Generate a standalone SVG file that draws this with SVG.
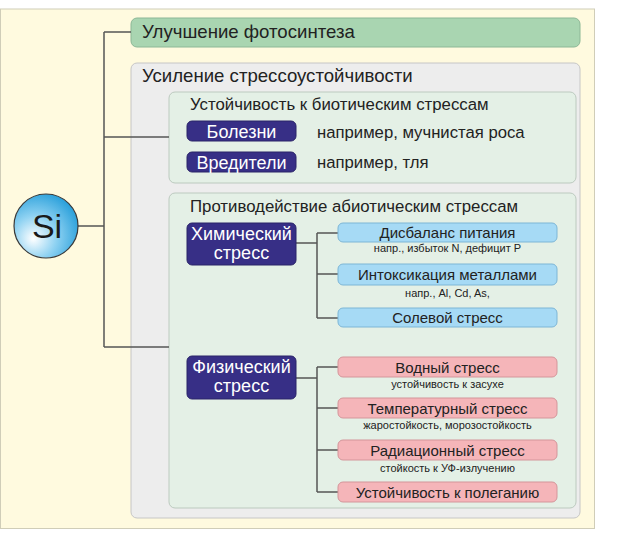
<svg xmlns="http://www.w3.org/2000/svg" width="624" height="539" viewBox="0 0 624 539">
<defs>
<radialGradient id="siGrad" cx="0.35" cy="0.65" r="0.75" fx="0.3" fy="0.7">
<stop offset="0" stop-color="#FFFFFF"/>
<stop offset="0.45" stop-color="#8FD2F2"/>
<stop offset="1" stop-color="#1E9AD8"/>
</radialGradient>
<style>
text{font-family:"Liberation Sans",Arial,sans-serif;fill:#222}
.conn{fill:none;stroke:#555;stroke-width:1.5}
.head{font-size:18.6px}
.sub{font-size:16.8px}
.navy rect{fill:#372F86;stroke:#2A2468;stroke-width:1}
.navy text{fill:#fff;font-size:18px;text-anchor:middle}
.blue rect{fill:#A6DAF5;stroke:#7DB6D6;stroke-width:1}
.pink rect{fill:#F5B5B9;stroke:#D4959A;stroke-width:1}
.lbl{font-size:15px;text-anchor:middle}
.note{font-size:11px;text-anchor:middle}
.ex{font-size:16.7px}
</style>
</defs>
<rect x="0.5" y="9" width="594" height="519.5" fill="#FFFADF" stroke="#D0CDB8" stroke-width="1"/>
<g id="photosynthesis">
<rect x="131" y="18" width="449" height="29" rx="6" fill="#A9D5B1" stroke="#8CB796" stroke-width="1"/>
<text class="head" x="142" y="38">Улучшение фотосинтеза</text>
</g>
<g id="stress">
<rect x="131" y="63" width="449" height="455" rx="6" fill="#EDEDED" stroke="#C6C6C6" stroke-width="1"/>
<text class="head" x="142" y="82">Усиление стрессоустойчивости</text>
</g>
<g id="biotic">
<rect x="169" y="92" width="407" height="91" rx="6" fill="#E4F0E6" stroke="#BCCABF" stroke-width="1"/>
<text class="sub" x="190" y="110">Устойчивость к биотическим стрессам</text>
</g>
<g id="abiotic">
<rect x="169" y="193" width="407" height="315" rx="6" fill="#E4F0E6" stroke="#BCCABF" stroke-width="1"/>
<text class="sub" x="190" y="212">Противодействие абиотическим стрессам</text>
</g>
<g id="connectors">
<path class="conn" d="M78 226H104M104 32V347M104 32H131M104 137H169M104 347H169"/>
<path class="conn" d="M296 243H317M317 233V318M317 233H338M317 274H338M317 318H338"/>
<path class="conn" d="M296 378H317M317 367V492M317 367H338M317 408H338M317 450H338M317 492H338"/>
</g>
<g id="bolezni" class="navy">
<rect x="187" y="121" width="109" height="20" rx="5"/>
<text x="241.5" y="137.5">Болезни</text>
</g>
<text class="ex" x="317" y="138">например, мучнистая роса</text>
<g id="vrediteli" class="navy">
<rect x="187" y="152" width="109" height="20" rx="5"/>
<text x="241.5" y="168.5">Вредители</text>
</g>
<text class="ex" x="317" y="168">например, тля</text>
<g id="chem" class="navy">
<rect x="187" y="223" width="109" height="42" rx="5"/>
<text x="241.5" y="239.5">Химический</text>
<text x="241.5" y="258.5">стресс</text>
</g>
<g id="phys" class="navy">
<rect x="187" y="356" width="109" height="43" rx="5"/>
<text x="241.5" y="372.5">Физический</text>
<text x="241.5" y="391.5">стресс</text>
</g>
<g id="disbalans" class="blue">
<rect x="338" y="223" width="219" height="19" rx="5"/>
<text class="lbl" x="447.5" y="238">Дисбаланс питания</text>
<text class="note" x="447.5" y="252">напр., избыток N, дефицит P</text>
</g>
<g id="intox" class="blue">
<rect x="338" y="264" width="219" height="21" rx="5"/>
<text class="lbl" x="447.5" y="279.5">Интоксикация металлами</text>
<text class="note" x="447.5" y="297">напр., Al, Cd, As,</text>
</g>
<g id="salt" class="blue">
<rect x="338" y="308" width="219" height="19" rx="5"/>
<text class="lbl" x="447.5" y="323">Солевой стресс</text>
</g>
<g id="water" class="pink">
<rect x="338" y="357" width="219" height="20" rx="5"/>
<text class="lbl" x="447.5" y="372.5">Водный стресс</text>
<text class="note" x="447.5" y="387.5">устойчивость к засухе</text>
</g>
<g id="temp" class="pink">
<rect x="338" y="398" width="219" height="20" rx="5"/>
<text class="lbl" x="447.5" y="413.5">Температурный стресс</text>
<text class="note" x="447.5" y="429">жаростойкость, морозостойкость</text>
</g>
<g id="rad" class="pink">
<rect x="338" y="440" width="219" height="20" rx="5"/>
<text class="lbl" x="447.5" y="455.5">Радиационный стресс</text>
<text class="note" x="447.5" y="472">стойкость к УФ-излучению</text>
</g>
<g id="lodging" class="pink">
<rect x="338" y="482" width="219" height="20" rx="5"/>
<text class="lbl" x="447.5" y="497.5">Устойчивость к полеганию</text>
</g>
<g id="si">
<circle cx="46" cy="226" r="32" fill="url(#siGrad)" stroke="#3A3A3A" stroke-width="1.2"/>
<text x="47" y="238" font-size="34" text-anchor="middle" style="fill:#1A1A1A">Si</text>
</g>
</svg>
